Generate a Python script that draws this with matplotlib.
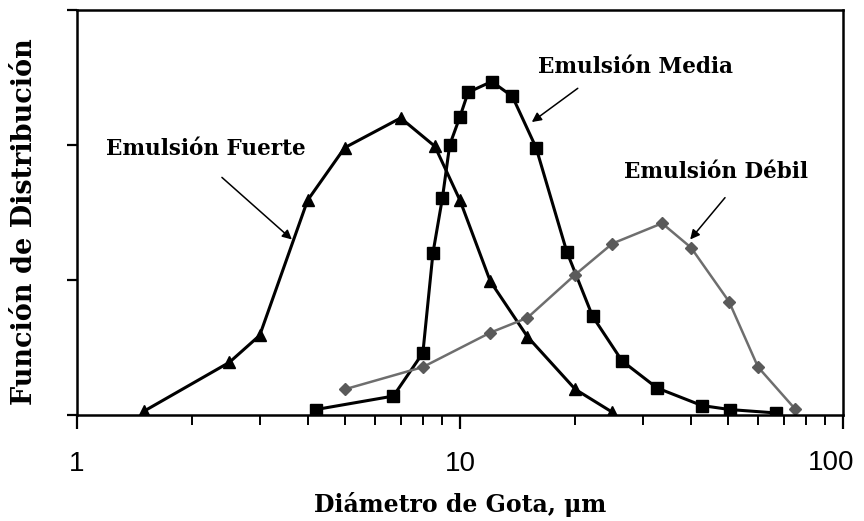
import matplotlib
matplotlib.use("Agg")
from matplotlib import pyplot as plt
from matplotlib.ticker import LogLocator, NullFormatter, FixedLocator

# droplet diameter (um) and distribution value for each emulsion
fuerte_x = [1.5, 2.5, 3.0, 4.0, 5.0, 7.0, 8.6, 10.0, 12.0, 15.0, 20.0, 25.0]
fuerte_y = [0.03, 0.39, 0.59, 1.59, 1.98, 2.20, 1.99, 1.59, 0.99, 0.58, 0.19, 0.02]

media_x = [4.2, 6.7, 8.0, 8.5, 9.0, 9.4, 10.0, 10.5, 12.1, 13.7, 15.8, 19.0, 22.2, 26.5, 32.7, 42.8, 50.7, 66.8]
media_y = [0.04, 0.14, 0.46, 1.20, 1.61, 2.00, 2.21, 2.39, 2.47, 2.36, 1.98, 1.21, 0.73, 0.40, 0.20, 0.07, 0.04, 0.015]

debil_x = [5.0, 8.0, 12.0, 15.0, 20.0, 25.0, 33.7, 40.1, 50.4, 60.0, 75.0]
debil_y = [0.19, 0.355, 0.61, 0.72, 1.04, 1.27, 1.42, 1.24, 0.84, 0.355, 0.044]

x_ticks = [1, 10, 100]
x_ticklabels = ["1", "10", "100"]

serif = "DejaVu Serif"

fig = plt.figure(figsize=(8.64, 5.21), dpi=100)
ax = fig.add_axes([0.0891, 0.2035, 0.8866, 0.7773])

ax.plot(fuerte_x, fuerte_y, color="black", lw=2.2, marker="^", ms=9, mfc="black", mec="black")
ax.plot(media_x, media_y, color="black", lw=2.2, marker="s", ms=8.5, mfc="black", mec="black")
ax.plot(debil_x, debil_y, color="#6e6e6e", lw=1.8, marker="D", ms=6, mfc="#5a5a5a", mec="#5a5a5a")

ax.set_xscale("log")
ax.set_xlim(1, 100)
ax.set_ylim(0, 3)
ax.yaxis.set_major_locator(FixedLocator([0, 1, 2, 3]))
ax.set_yticklabels([])
ax.xaxis.set_minor_locator(LogLocator(base=10, subs=range(2, 10)))
ax.xaxis.set_minor_formatter(NullFormatter())
ax.set_xticks(x_ticks)
# last label sits a bit inside the right edge
ax.set_xticklabels(x_ticklabels[:-1] + [""], fontfamily="Liberation Sans", fontsize=20)
ax.annotate(x_ticklabels[-1], xy=(x_ticks[-1], 0), xycoords=("data", "axes fraction"),
            xytext=(-12, -48), textcoords="offset pixels", ha="center", va="center",
            fontfamily="Liberation Sans", fontsize=20, annotation_clip=False)

ax.tick_params(axis="x", which="major", direction="out", length=10, width=1.6, pad=16)
ax.tick_params(axis="x", which="minor", direction="out", length=7, width=1.4)
ax.tick_params(axis="y", which="major", direction="out", length=7, width=1.6)
for sp in ax.spines.values():
    sp.set_linewidth(1.8)

ax.set_xlabel("Diámetro de Gota, μm", fontfamily=serif, fontweight="bold", fontsize=17, labelpad=11)
ax.set_ylabel("Función de Distribución", fontfamily=serif, fontweight="bold", fontsize=19.5)
ax.yaxis.set_label_coords(-0.051, 0.478)

# curve labels with pointer arrows
arrow = dict(arrowstyle="-|>", color="black", lw=1.1, mutation_scale=14, shrinkA=0, shrinkB=0)
ax.annotate("", xy=(3.64, 1.30), xytext=(2.39, 1.76), arrowprops=arrow)
ax.annotate("", xy=(15.4, 2.17), xytext=(20.3, 2.42), arrowprops=arrow)
ax.annotate("", xy=(39.9, 1.30), xytext=(49.2, 1.61), arrowprops=arrow)

lab = dict(fontfamily=serif, fontweight="bold", fontsize=15.5, ha="center", va="center")
ax.text(2.17, 1.97, "Emulsión Fuerte", **lab)
ax.text(28.8, 2.58, "Emulsión Media", **lab)
ax.text(46.6, 1.80, "Emulsión Débil", **lab)

fig.savefig("out.png", dpi=100)
